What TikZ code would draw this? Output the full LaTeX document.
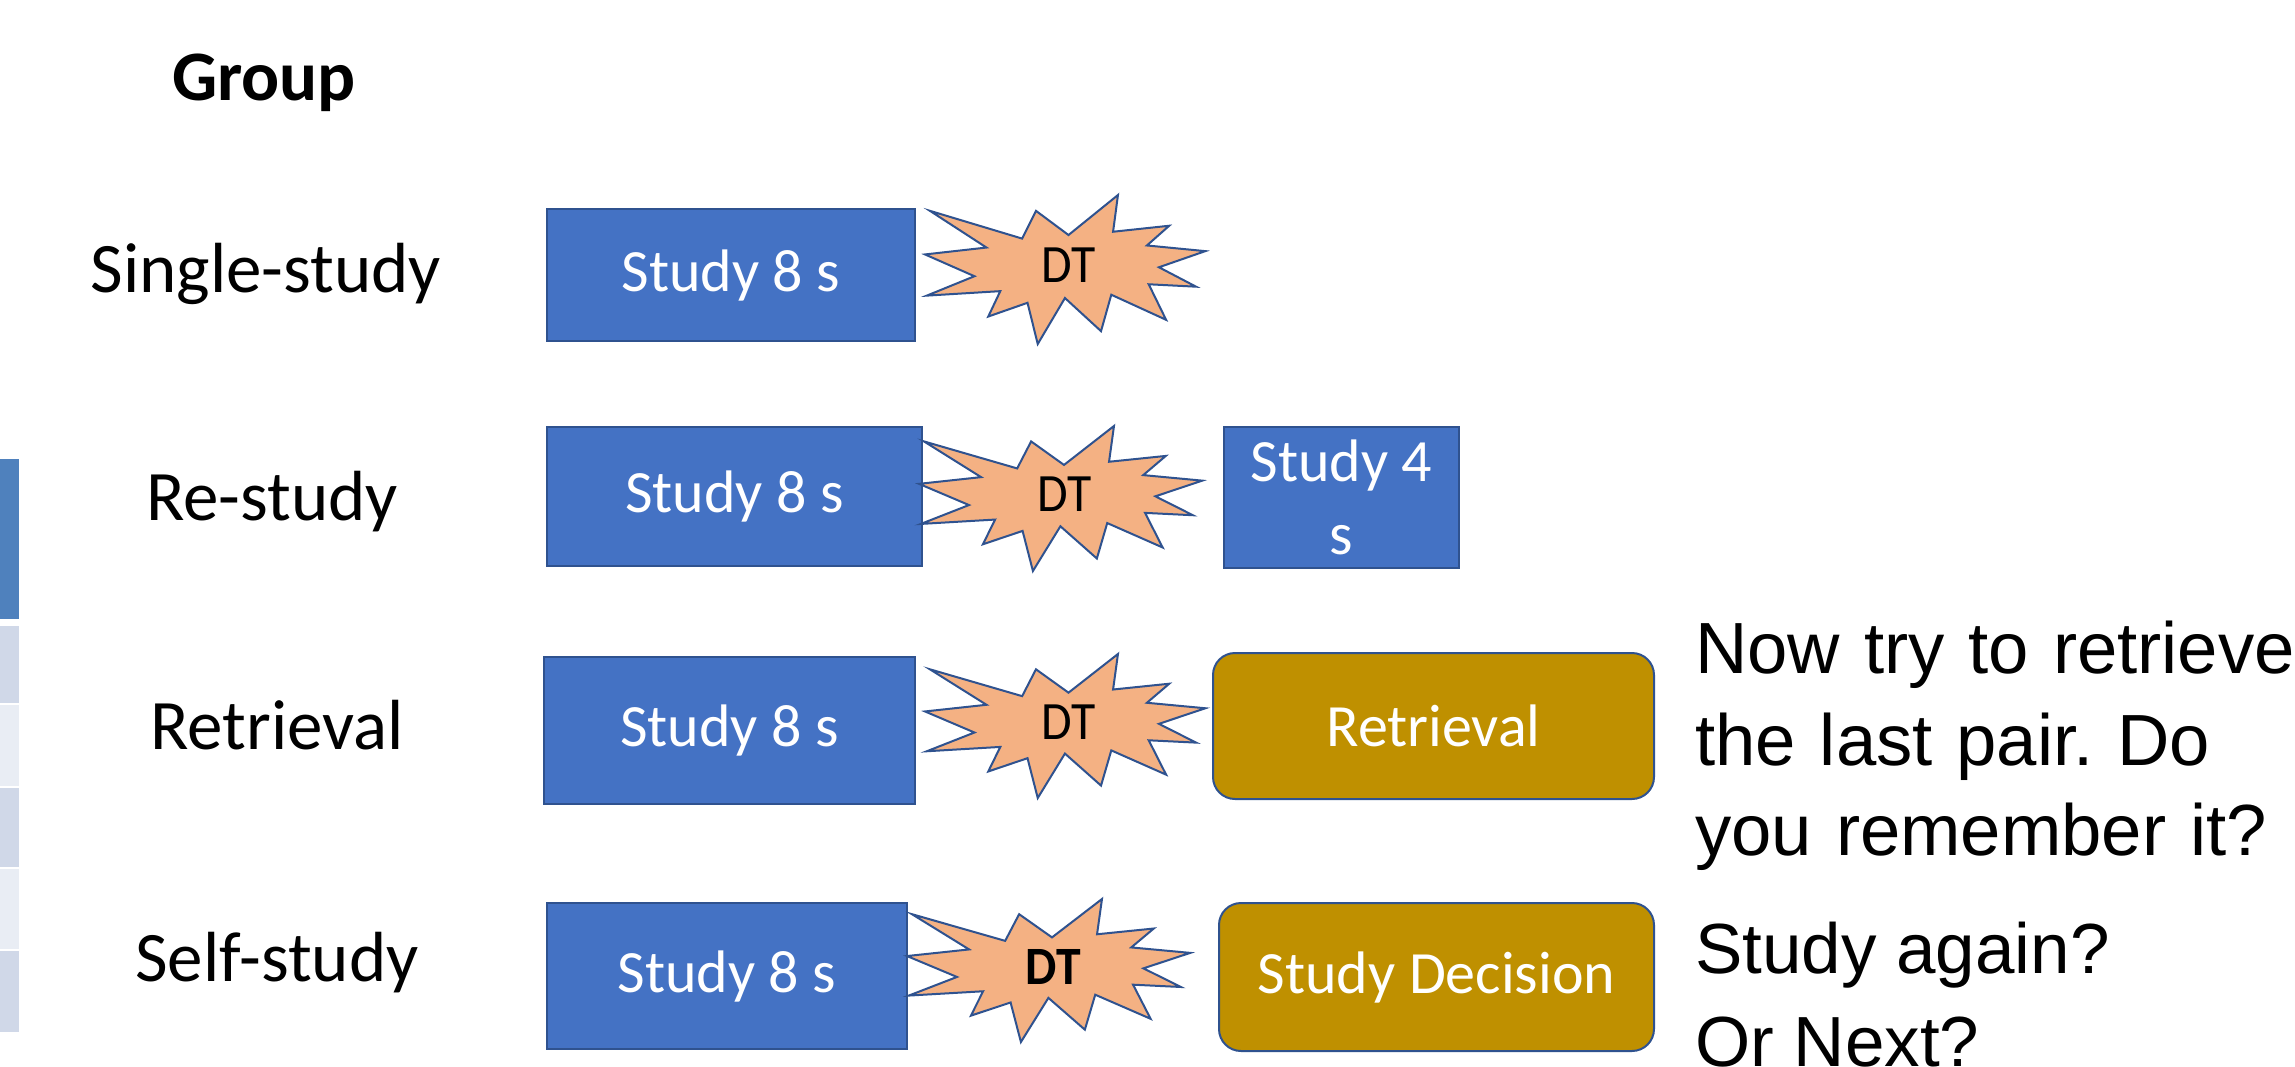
\documentclass[tikz,border=0pt]{standalone}
\usepackage{fontspec}
\setmainfont{Carlito}
\newfontfamily\arialf{Liberation Sans}
\frenchspacing
\definecolor{boxblue}{HTML}{4472C4}
\definecolor{edgeblue}{HTML}{2F528F}
\definecolor{burst}{HTML}{F4B183}
\definecolor{gold}{HTML}{BF9000}
\definecolor{tabdark}{HTML}{4F81BD}
\definecolor{tablight}{HTML}{D0D8E8}
\definecolor{tabpale}{HTML}{E9EDF4}
\tikzset{
  studybox/.style={draw=edgeblue, fill=boxblue, line width=2pt, text=white,
    font=\fontsize{60}{73}\selectfont, inner sep=0pt, align=center},
  goldbox/.style={studybox, fill=gold, rounded corners=22pt},
  grouplabel/.style={font=\fontsize{71}{85}\selectfont, anchor=base, inner sep=0pt},
  dtlabel/.style={font=\fontsize{54}{60}\selectfont, inner sep=0pt, xscale=0.92},
  bigtext/.style={font=\arialf\fontsize{71}{100}\selectfont, anchor=base west, inner sep=0pt},
  widetext/.style={bigtext, font=\arialf\fontsize{72.5}{100}\selectfont,
    execute at begin node={\spaceskip=0.33em plus 0.1em}},
  boom/.style={draw=edgeblue, fill=burst, line width=2pt, line join=miter}
}
\newcommand{\boompath}{(108,58) -- (145.22,0) -- (141.55,53.25) -- (183.80,44.57) -- (167.02,73.15) -- (210.97,81.37) -- (176.07,104.75) -- (204.00,132.90) -- (168.37,129.42) -- (181.45,180.95) -- (140.20,144.57) -- (132.47,197.37) -- (105.32,149.35) -- (84.85,216) -- (77.15,156.27) -- (47.62,176.17) -- (56.67,139.37) -- (1.35,145.87) -- (37.22,117.75) -- (0,86.15) -- (46.27,76.17) -- (3.70,22.95) -- (73.12,63.20) -- (83.52,22.95) -- cycle}
\begin{document}
\begin{tikzpicture}[x=1pt,y=-1pt]
\useasboundingbox (0,0) rectangle (2295,1066);
\clip (0,0) rectangle (2295,1066);
\fill[white] (0,0) rectangle (2295,1066);

% table fragment at left edge
\fill[tabdark]  (0,459) rectangle (19,619);
\fill[tablight] (0,626) rectangle (19,703);
\fill[tabpale]  (0,705) rectangle (19,786);
\fill[tablight] (0,788) rectangle (19,867);
\fill[tabpale]  (0,869) rectangle (19,949);
\fill[tablight] (0,951) rectangle (19,1032);

% group labels
\node[grouplabel, font=\fontsize{71}{85}\selectfont\bfseries] (grp) at (264,100) {Group};
\node[grouplabel] (g1) at (266,292) {Single-study};
\node[grouplabel] (g2) at (272,520) {Re-study};
\node[grouplabel] (g3) at (277,749) {Retrieval};
\node[grouplabel] (g4) at (277,981) {Self-study};

% study boxes
\node[studybox, minimum width=368, minimum height=132] (s1) at (731,275) {Study 8 s};
\node[studybox, minimum width=375, minimum height=139] (s2) at (734.5,496.5) {Study 8 s};
\node[studybox, minimum width=371, minimum height=147] (s3) at (729.5,730.5) {Study 8 s};
\node[studybox, minimum width=360, minimum height=146] (s4) at (727,976) {Study 8 s};

% second-phase boxes
\node[studybox, minimum width=235, minimum height=141] (r2) at (1341.5,497.5) {Study 4\\s};
\node[goldbox, minimum width=441, minimum height=146] (r3) at (1433.5,726) {Retrieval};
\node[goldbox, minimum width=435, minimum height=148] (r4) at (1436.5,977) {Study Decision};

% distractor bursts
\begin{scope}[shift={(925,195)}, xscale=1.3287, yscale=0.6898]
  \path[boom] \boompath;
\end{scope}
\begin{scope}[shift={(919,426)}, xscale=1.3426, yscale=0.6713]
  \path[boom] \boompath;
\end{scope}
\begin{scope}[shift={(925,654)}, xscale=1.3287, yscale=0.6667]
  \path[boom] \boompath;
\end{scope}
\begin{scope}[shift={(907,899)}, xscale=1.3426, yscale=0.6620]
  \path[boom] \boompath;
\end{scope}
\node[dtlabel] (d1) at (1069,265.5) {DT};
\node[dtlabel] (d2) at (1065,494.5) {DT};
\node[dtlabel] (d3) at (1069,722) {DT};
\node[dtlabel, font=\fontsize{54}{60}\selectfont\bfseries] (d4) at (1053,966.5) {DT};

% prompt texts
\node[widetext] (t1) at (1695,673) {Now try to retrieve};
\node[widetext] (t2) at (1695,765) {the last pair. Do};
\node[widetext] (t3) at (1695,855) {you remember it?};
\node[bigtext] (t4) at (1695,973) {Study again?};
\node[bigtext] (t5) at (1695,1066) {Or Next?};
\end{tikzpicture}
\end{document}
